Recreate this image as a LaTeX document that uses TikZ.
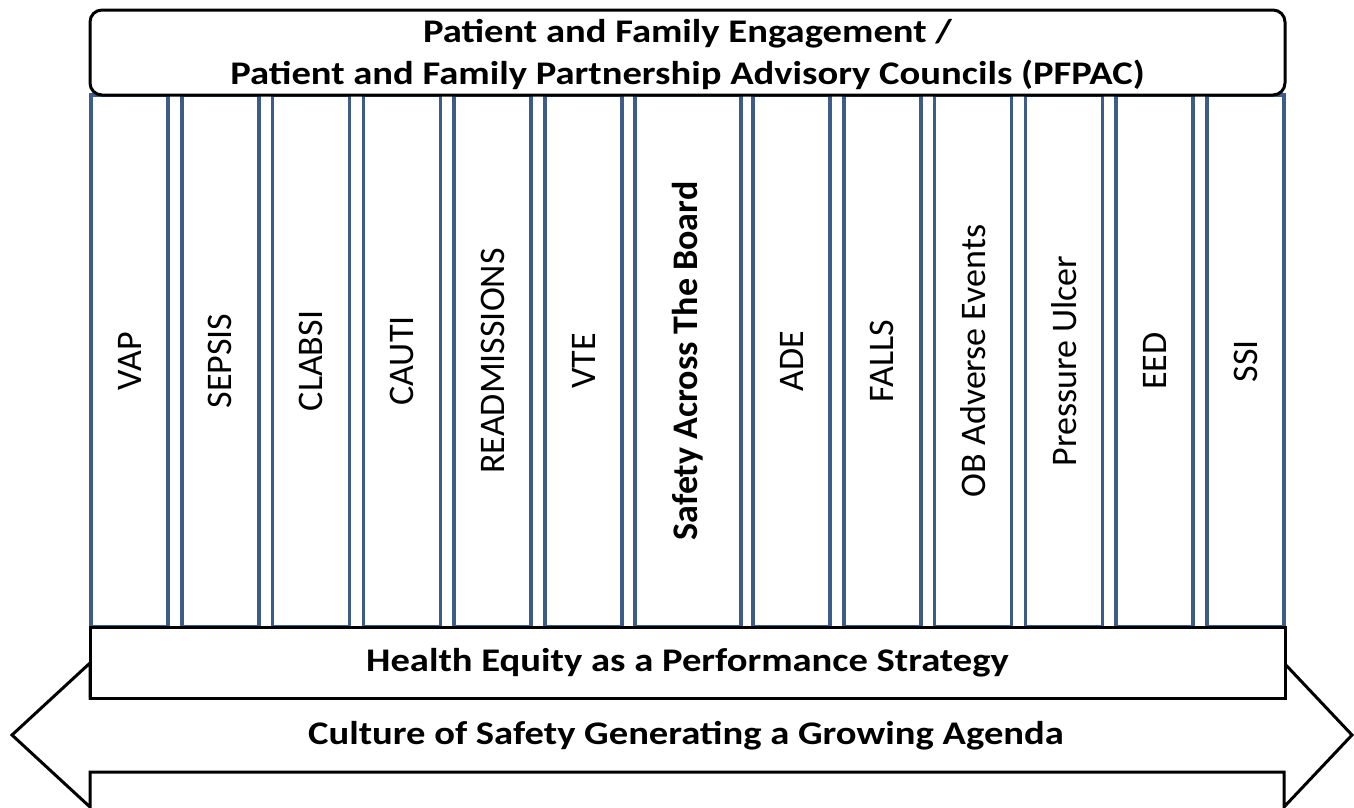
\documentclass[tikz,border=0pt]{standalone}
\usepackage{fontspec}
\setmainfont{Carlito}
\usetikzlibrary{positioning}

\definecolor{pillarblue}{RGB}{62,92,138}
\newcommand{\widetext}[1]{\scalebox{1.17}[1]{#1}}

\begin{document}
\begin{tikzpicture}[x=1pt,y=-1pt,
    pillar/.style={draw=pillarblue,line width=3.5pt,fill=white,rectangle,rotate=90,
      minimum width=532pt,minimum height=77pt,inner sep=0pt,
      font=\fontsize{36}{42}\selectfont},
    band/.style={draw,line width=3pt,fill=white,rectangle,inner sep=0pt,
      minimum width=1195pt,font=\bfseries\fontsize{33}{42}\selectfont}]

  \useasboundingbox (0,0) rectangle (1354,807);

  % agenda arrow behind the bands
  \draw [line width=3pt,fill=white]
    (12,735) -- (90,663) -- (90,698) -- (1284,698) -- (1284,663) -- (1352,735)
    -- (1284,807) -- (1284,772) -- (90,772) -- (90,807) -- cycle;
  \node [font=\bfseries\fontsize{33}{42}\selectfont] (culture) at (686,736)
    {\widetext{Culture of Safety Generating a Growing Agenda}};

  % pillars
  \foreach \lbl [count=\i from 0] in {VAP,SEPSIS,CLABSI,CAUTI,READMISSIONS,VTE}
    \node [pillar] (left-\i) at (129.5+\i*90.8,361) {\lbl};
  \node [pillar,minimum height=106pt,font=\bfseries\fontsize{36}{42}\selectfont]
    (board) at (688,361) {Safety Across The Board};
  \foreach \lbl [count=\i from 0] in {ADE,FALLS,OB Adverse Events,Pressure Ulcer,EED,SSI}
    \node [pillar] (right-\i) at (791.5+\i*90.8,361) {\lbl};

  \node [band,minimum height=71pt] (equity) at (687.5,662.5)
    {\widetext{Health Equity as a Performance Strategy}};
  \node [band,rounded corners=12pt,minimum height=85pt] (engage) at (687.5,52.5) {};
  \node [align=center,font=\bfseries\fontsize{33}{42}\selectfont] (engage-text)
    at ([yshift=-2pt]engage.center)
    {\widetext{Patient and Family Engagement /}\\
     \widetext{Patient and Family Partnership Advisory Councils (PFPAC)}};

\end{tikzpicture}
\end{document}
